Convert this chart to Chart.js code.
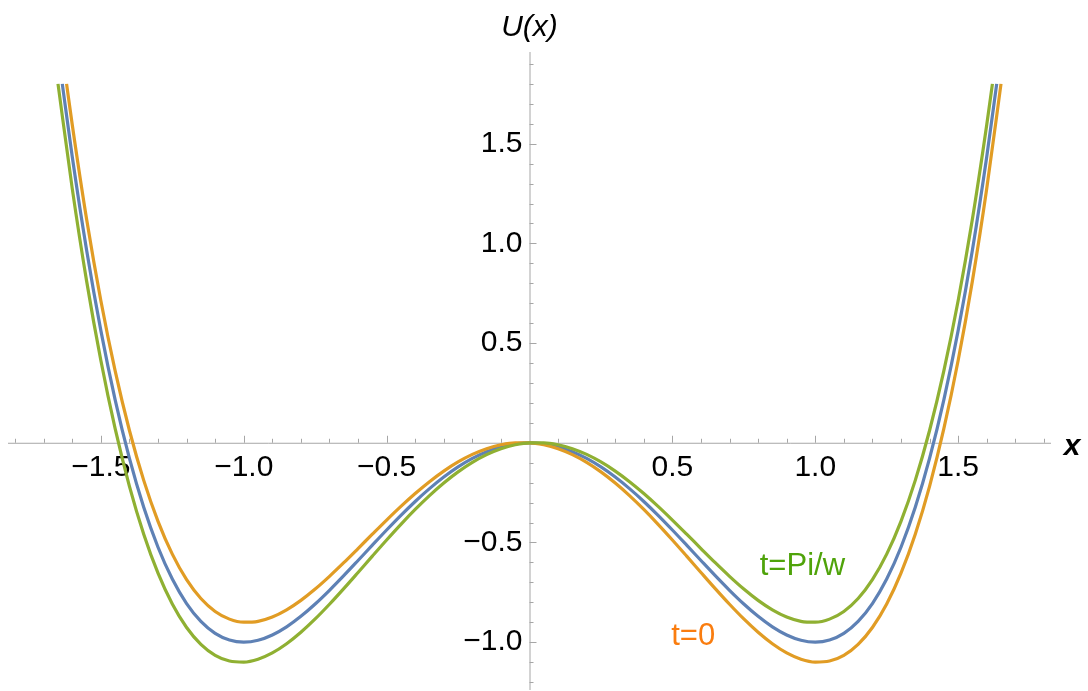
<!DOCTYPE html>
<html>
<head>
<meta charset="utf-8">
<script src="https://cdn.jsdelivr.net/npm/chart.js@4/dist/chart.umd.min.js"></script>
<style>
html,body{margin:0;padding:0;background:#fff;}
#wrap{width:1088px;height:691px;}
</style>
</head>
<body>
<div id="wrap"><canvas id="c" width="1088" height="691"></canvas></div>
<script>
// ---- data ----
const xBlue = [-1.635,-1.6,-1.55,-1.5,-1.45,-1.4,-1.35,-1.3,-1.25,-1.2,-1.15,-1.1,-1.05,-1.0,-0.95,-0.9,-0.85,-0.8,-0.75,-0.7,-0.65,-0.6,-0.55,-0.5,-0.45,-0.4,-0.35,-0.3,-0.25,-0.2,-0.15,-0.1,-0.05,0,0.05,0.1,0.15,0.2,0.25,0.3,0.35,0.4,0.45,0.5,0.55,0.6,0.65,0.7,0.75,0.8,0.85,0.9,0.95,1.0,1.05,1.1,1.15,1.2,1.25,1.3,1.35,1.4,1.45,1.5,1.55,1.6,1.635];
const uBlue = [1.80,1.4336,0.9670,0.5625,0.2155,-0.0784,-0.3235,-0.5239,-0.6836,-0.8064,-0.8960,-0.9559,-0.9895,-1.0,-0.9905,-0.9639,-0.9230,-0.8704,-0.8086,-0.7399,-0.6665,-0.5904,-0.5135,-0.4375,-0.3640,-0.2944,-0.2300,-0.1719,-0.1211,-0.0784,-0.0445,-0.0199,-0.0050,0,-0.0050,-0.0199,-0.0445,-0.0784,-0.1211,-0.1719,-0.2300,-0.2944,-0.3640,-0.4375,-0.5135,-0.5904,-0.6665,-0.7399,-0.8086,-0.8704,-0.9230,-0.9639,-0.9905,-1.0,-0.9895,-0.9559,-0.8960,-0.8064,-0.6836,-0.5239,-0.3235,-0.0784,0.2155,0.5625,0.9670,1.4336,1.80];

const xGreen = [-1.65,-1.6,-1.55,-1.5,-1.45,-1.4,-1.35,-1.3,-1.25,-1.2,-1.15,-1.1,-1.05,-1.0,-0.95,-0.9,-0.85,-0.8,-0.75,-0.7,-0.65,-0.6,-0.55,-0.5,-0.45,-0.4,-0.35,-0.3,-0.25,-0.2,-0.15,-0.1,-0.05,0,0.05,0.1,0.15,0.2,0.25,0.3,0.35,0.4,0.45,0.5,0.55,0.6,0.65,0.7,0.75,0.8,0.85,0.9,0.95,1.0,1.05,1.1,1.15,1.2,1.25,1.3,1.35,1.4,1.45,1.5,1.55,1.6,1.62];
const uGreen = [1.80,1.2736,0.8120,0.4125,0.0705,-0.2184,-0.4585,-0.6539,-0.8086,-0.9264,-1.0110,-1.0659,-1.0945,-1.1,-1.0855,-1.0539,-1.0080,-0.9504,-0.8836,-0.8099,-0.7315,-0.6504,-0.5685,-0.4875,-0.4090,-0.3344,-0.2650,-0.2019,-0.1461,-0.0984,-0.0595,-0.0299,-0.0100,0,0.0000,-0.0099,-0.0295,-0.0584,-0.0961,-0.1419,-0.1950,-0.2544,-0.3190,-0.3875,-0.4585,-0.5304,-0.6015,-0.6699,-0.7336,-0.7904,-0.8380,-0.8739,-0.8955,-0.9,-0.8845,-0.8459,-0.7810,-0.6864,-0.5586,-0.3939,-0.1885,0.0616,0.3605,0.7125,1.1220,1.5936,1.80];

const xOrange = [-1.62,-1.6,-1.55,-1.5,-1.45,-1.4,-1.35,-1.3,-1.25,-1.2,-1.15,-1.1,-1.05,-1.0,-0.95,-0.9,-0.85,-0.8,-0.75,-0.7,-0.65,-0.6,-0.55,-0.5,-0.45,-0.4,-0.35,-0.3,-0.25,-0.2,-0.15,-0.1,-0.05,0,0.05,0.1,0.15,0.2,0.25,0.3,0.35,0.4,0.45,0.5,0.55,0.6,0.65,0.7,0.75,0.8,0.85,0.9,0.95,1.0,1.05,1.1,1.15,1.2,1.25,1.3,1.35,1.4,1.45,1.5,1.55,1.6,1.65];
const uOrange = [1.80,1.5936,1.1220,0.7125,0.3605,0.0616,-0.1885,-0.3939,-0.5586,-0.6864,-0.7810,-0.8459,-0.8845,-0.9,-0.8955,-0.8739,-0.8380,-0.7904,-0.7336,-0.6699,-0.6015,-0.5304,-0.4585,-0.3875,-0.3190,-0.2544,-0.1950,-0.1419,-0.0961,-0.0584,-0.0295,-0.0099,0.0000,0,-0.0100,-0.0299,-0.0595,-0.0984,-0.1461,-0.2019,-0.2650,-0.3344,-0.4090,-0.4875,-0.5685,-0.6504,-0.7315,-0.8099,-0.8836,-0.9504,-1.0080,-1.0539,-1.0855,-1.1,-1.0945,-1.0659,-1.0110,-0.9264,-0.8086,-0.6539,-0.4585,-0.2184,0.0705,0.4125,0.8120,1.2736,1.80];

// tick values and labels
const xMajorTicks = [-1.5,-1.0,-0.5,0.5,1.0,1.5];
const xTickLabels = ["\u22121.5","\u22121.0","\u22120.5","0.5","1.0","1.5"];
const xMinorTicks = [-1.8,-1.7,-1.6,-1.4,-1.3,-1.2,-1.1,-0.9,-0.8,-0.7,-0.6,-0.4,-0.3,-0.2,-0.1,0.1,0.2,0.3,0.4,0.6,0.7,0.8,0.9,1.1,1.2,1.3,1.4,1.6,1.7,1.8];
const yMajorTicks = [-1.0,-0.5,0.5,1.0,1.5];
const yTickLabels = ["\u22121.0","\u22120.5","0.5","1.0","1.5"];
const yMinorTicks = [-1.2,-1.1,-0.9,-0.8,-0.7,-0.6,-0.4,-0.3,-0.2,-0.1,0.1,0.2,0.3,0.4,0.6,0.7,0.8,0.9,1.1,1.2,1.3,1.4,1.6,1.7,1.8,1.9];

const seriesNames = ["symmetric","t=0","t=Pi/w"];
const curveLabels = [
  {text:"t=Pi/w", x:0.955, y:-0.62, color:"#4fa30a"},
  {text:"t=0", x:0.573, y:-0.97, color:"#fa7d0f"}
];

function pts(xs, ys){ return xs.map((x,i)=>({x:x, y:ys[i]})); }

const FONT = '"Liberation Sans", Arial, Helvetica, sans-serif';

const axesPlugin = {
  id:'mmaAxes',
  beforeDatasetsDraw(chart){
    const ctx = chart.ctx, xs = chart.scales.x, ys = chart.scales.y, ca = chart.chartArea;
    const x0 = xs.getPixelForValue(0), y0 = ys.getPixelForValue(0);
    ctx.save();
    ctx.strokeStyle = '#a6a6a6';
    ctx.lineWidth = 1;
    ctx.beginPath();
    ctx.moveTo(ca.left, y0+0.5); ctx.lineTo(ca.right, y0+0.5);
    ctx.moveTo(x0+0.5, ca.top); ctx.lineTo(x0+0.5, ca.bottom);
    xMinorTicks.forEach(v=>{ const p=Math.round(xs.getPixelForValue(v))+0.5; ctx.moveTo(p,y0); ctx.lineTo(p,y0-4); });
    xMajorTicks.forEach(v=>{ const p=Math.round(xs.getPixelForValue(v))+0.5; ctx.moveTo(p,y0); ctx.lineTo(p,y0-7); });
    yMinorTicks.forEach(v=>{ const p=Math.round(ys.getPixelForValue(v))+0.5; ctx.moveTo(x0,p); ctx.lineTo(x0+4,p); });
    yMajorTicks.forEach(v=>{ const p=Math.round(ys.getPixelForValue(v))+0.5; ctx.moveTo(x0,p); ctx.lineTo(x0+7,p); });
    ctx.stroke();
    ctx.fillStyle = '#000';
    ctx.font = '30px ' + FONT;
    ctx.textAlign = 'center'; ctx.textBaseline = 'middle';
    xMajorTicks.forEach((v,i)=>{ ctx.fillText(xTickLabels[i], xs.getPixelForValue(v), y0+25); });
    ctx.textAlign = 'right';
    yMajorTicks.forEach((v,i)=>{ ctx.fillText(yTickLabels[i], x0-7, ys.getPixelForValue(v)); });
    ctx.font = 'italic 30px ' + FONT;
    ctx.textAlign = 'center';
    ctx.fillText('U(x)', x0, 28);
    ctx.font = 'italic bold 30px ' + FONT;
    ctx.fillText('x', ca.right + 21, y0 + 4);
    ctx.restore();
  },
  afterDatasetsDraw(chart){
    const ctx = chart.ctx, xs = chart.scales.x, ys = chart.scales.y;
    ctx.save();
    ctx.font = '31px ' + FONT;
    ctx.textAlign = 'center'; ctx.textBaseline = 'middle';
    curveLabels.forEach(l=>{ ctx.fillStyle = l.color; ctx.fillText(l.text, xs.getPixelForValue(l.x), ys.getPixelForValue(l.y)); });
    ctx.restore();
  }
};

new Chart(document.getElementById('c'), {
  type:'line',
  data:{
    datasets:[
      {label:seriesNames[0], data:pts(xBlue,uBlue), borderColor:'#5e81b5', order:3},
      {label:seriesNames[1], data:pts(xOrange,uOrange), borderColor:'#e19c24', order:2},
      {label:seriesNames[2], data:pts(xGreen,uGreen), borderColor:'#8fb032', order:1}
    ]
  },
  options:{
    responsive:false,
    animation:false,
    devicePixelRatio:1,
    layout:{padding:{left:8, right:37, top:52, bottom:1}},
    elements:{
      line:{borderWidth:3.2, cubicInterpolationMode:'monotone', fill:false},
      point:{radius:0, hoverRadius:0}
    },
    plugins:{legend:{display:false}, tooltip:{enabled:false}},
    scales:{
      x:{type:'linear', min:-1.825, max:1.825, display:false},
      y:{type:'linear', min:-1.24, max:1.96, display:false}
    }
  },
  plugins:[axesPlugin]
});
</script>
</body>
</html>
